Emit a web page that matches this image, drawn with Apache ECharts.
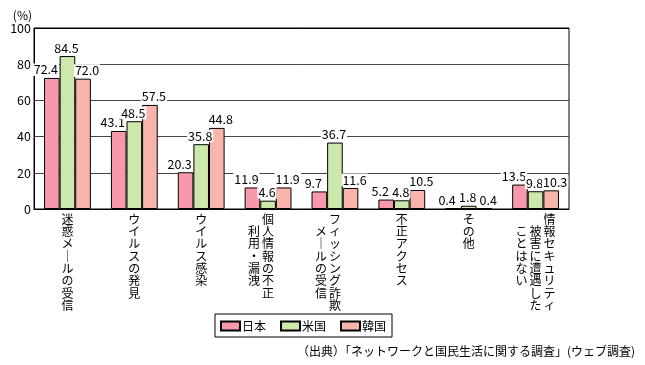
<!DOCTYPE html>
<html><head><meta charset="utf-8">
<script src="https://cdn.jsdelivr.net/npm/echarts@6/dist/echarts.min.js"></script>
<style>html,body{margin:0;padding:0;background:#fff}#c{width:645px;height:365px}</style>
</head><body><div id="c"></div>
<script>
const categories = ['迷惑メールの受信','ウイルスの発見','ウイルス感染','個人情報の不正\n利用・漏洩','フィッシング詐欺\nメールの受信','不正アクセス','その他','情報セキュリティ\n被害に遭遇した\nことはない'];
const seriesNames = ['日本','米国','韓国'];
const japan = [72.4, 43.1, 20.3, 11.9, 9.7, 5.2, 0.4, 13.5];
const usa   = [84.5, 48.5, 35.8, 4.6, 36.7, 4.8, 1.8, 9.8];
const korea = [72.0, 57.5, 44.8, 11.9, 11.6, 10.5, 0.4, 10.3];
const yTicks = [0, 20, 40, 60, 80, 100];
const sourceText = '（出典）「ネットワークと国民生活に関する調査」(ウェブ調査)';

const FONT = '"Noto Sans CJK JP", sans-serif';
const colors = ['#F799AB', '#CCE8AA', '#F9B5AC'];
const offsets = [[-6, 0], [-1, 0], [4, 0]];

function vertical(s) {
  const cols = s.split('\n').map(c => Array.from(c.replace(/ー/g, '｜')));
  const starts = cols.map((c, i) => i === 0 ? 0 : 1);
  let rows = 0;
  cols.forEach((c, i) => rows = Math.max(rows, starts[i] + c.length));
  const disp = [];
  for (let i = cols.length - 1; i >= 0; i--) disp.push(i);
  if (cols.length === 2) disp.push(-1);
  const lines = [];
  for (let r = 0; r < rows; r++) {
    let line = '';
    disp.forEach(ci => {
      let ch = '　';
      if (ci >= 0) {
        const k = r - starts[ci];
        if (k >= 0 && k < cols[ci].length) ch = cols[ci][k];
      }
      line += '{c|' + ch + '}';
    });
    lines.push(line);
  }
  return lines.join('\n');
}

const datasets = [japan, usa, korea];
const chart = echarts.init(document.getElementById('c'), null, {renderer: 'canvas'});
chart.setOption({
  animation: false,
  textStyle: {fontFamily: FONT, color: '#000'},
  grid: {left: 34, right: 76, top: 28, bottom: 156, show: true, borderColor: '#000', borderWidth: 1},
  legend: {
    data: seriesNames, left: 215, top: 314, orient: 'horizontal',
    itemWidth: 19, itemHeight: 9, itemGap: 14, icon: 'rect',
    padding: [6, 6, 5, 5], borderColor: '#000', borderWidth: 1,
    textStyle: {fontSize: 12, color: '#000', fontFamily: FONT, padding: [0, 0, 0, -3]}
  },
  title: {
    text: sourceText, right: 5, top: 340,
    textStyle: {fontSize: 12, fontWeight: 'normal', color: '#000', fontFamily: FONT}
  },
  xAxis: {
    type: 'category', data: categories,
    axisLine: {lineStyle: {color: '#000', width: 1}},
    axisTick: {inside: true, length: 5, lineStyle: {color: '#000'}},
    axisLabel: {
      interval: 0, margin: 4, formatter: vertical, color: '#000',
      rich: {c: {width: 14, align: 'center', fontSize: 12, lineHeight: 12.3, fontFamily: FONT, color: '#000'}}
    }
  },
  yAxis: {
    type: 'value', min: yTicks[0], max: yTicks[yTicks.length - 1], interval: 20,
    name: '(%)', nameLocation: 'end', nameGap: 6,
    nameTextStyle: {fontSize: 12, color: '#000', align: 'right', padding: [0, 2, 0, 0], fontFamily: FONT},
    axisLine: {show: true, lineStyle: {color: '#000'}},
    axisTick: {show: false},
    axisLabel: {fontSize: 12.5, color: '#000', margin: 3, fontFamily: FONT},
    splitLine: {lineStyle: {color: ['#000', '#444', '#444', '#444', '#444', '#000'], width: 1}}
  },
  series: seriesNames.map((n, i) => ({
    name: n, type: 'bar', data: datasets[i],
    barGap: 0, barCategoryGap: '30%',
    itemStyle: {color: colors[i], borderColor: '#000', borderWidth: 1},
    label: {
      show: true, position: 'top', distance: 2, offset: offsets[i],
      fontSize: 12.5, color: '#000', fontFamily: FONT,
      backgroundColor: '#fff', padding: [0, 1, 0, 1],
      formatter: p => p.value.toFixed(1)
    }
  }))
});
</script></body></html>
